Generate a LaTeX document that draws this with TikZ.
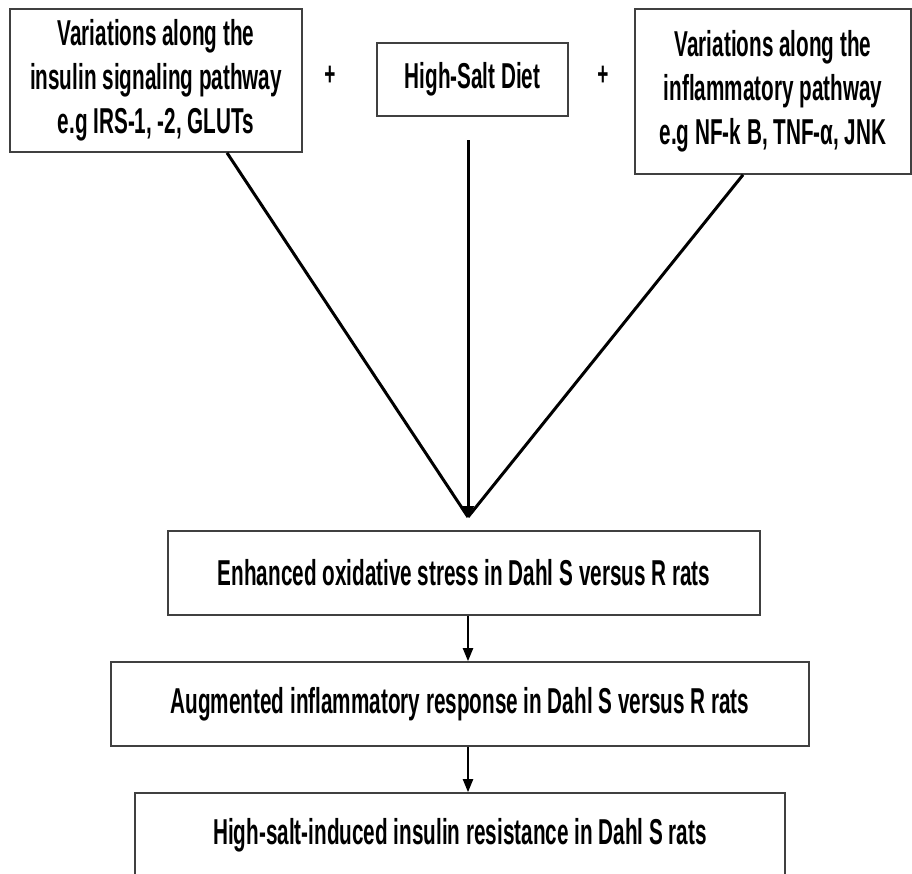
\documentclass[tikz,border=0pt]{standalone}
\usepackage{fontspec}
\setmainfont{Liberation Sans}[FakeStretch=0.575]
\usetikzlibrary{arrows.meta}
\begin{document}
\begin{tikzpicture}[x=1pt,y=-1pt,
  box/.style={draw=black!75,line width=1.6pt,fill=white,inner sep=0pt,align=center,
    font=\fontsize{36}{44}\selectfont\bfseries},
  plus/.style={font=\fontsize{33}{40}\selectfont\bfseries,inner sep=0pt},
  conn/.style={draw=black,line width=3pt},
  arr/.style={draw=black,line width=2pt,-{Triangle[length=13pt,width=10pt]}}]
\clip (0,0) rectangle (912,873);
\fill[white] (0,0) rectangle (912,873);
\node[box,minimum width=292pt,minimum height=143pt] (b1) at (156,80.5)
  {Variations along the\\insulin signaling pathway\\e.g IRS-1, -2, GLUTs};
\node[plus] (p1) at (330,76) {+};
\node[box,minimum width=191pt,minimum height=73pt] (b2) at (472.5,79.5) {High-Salt Diet};
\node[plus] (p2) at (603,76) {+};
\node[box,minimum width=276pt,minimum height=165pt] (b3) at (773,91.5)
  {Variations along the\\inflammatory pathway\\e.g NF-k B, TNF-α, JNK};
\coordinate (c) at (468,517);
\coordinate (ctop) at (468,140);
\draw[conn] ([xshift=71pt]b1.south) -- (c);
\draw[conn] ([xshift=-30pt]b3.south) -- (c);
\draw[conn,-{Triangle[length=11pt,width=12pt]}] (ctop) -- (c);
\node[box,minimum width=592pt,minimum height=84pt] (b4) at (464,573)
  {Enhanced oxidative stress in Dahl S versus R rats};
\node[box,minimum width=698pt,minimum height=84pt] (b5) at (460,704)
  {Augmented inflammatory response in Dahl S versus R rats};
\node[box,minimum width=650pt,minimum height=84pt] (b6) at (460,835)
  {High-salt-induced insulin resistance in Dahl S rats};
\draw[arr] (b4.south -| c) -- (b5.north -| c);
\draw[arr] (b5.south -| c) -- (b6.north -| c);
\end{tikzpicture}
\end{document}
